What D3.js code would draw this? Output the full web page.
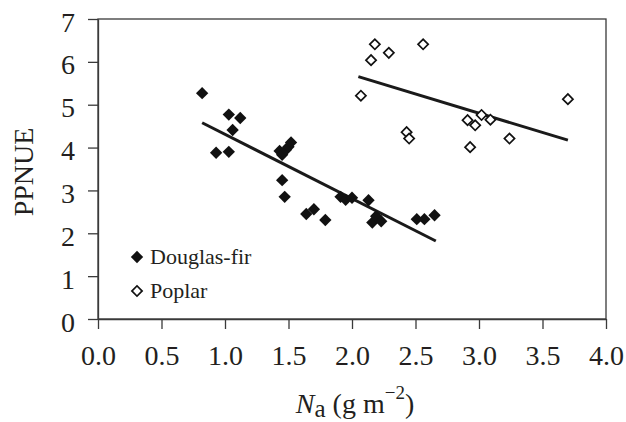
<!DOCTYPE html>
<html>
<head>
<meta charset="utf-8">
<script src="https://cdn.jsdelivr.net/npm/d3@7"></script>
<style>
  html, body { margin: 0; padding: 0; background: #fff; }
  svg { display: block; }
  text { font-family: "Liberation Serif", "DejaVu Serif", serif; fill: #231f20; }
</style>
</head>
<body>
<svg id="chart" width="626" height="422"></svg>
<script>
// ---- data ----
const douglasFirX = [0.82, 1.03, 1.12, 1.06, 0.93, 1.03, 1.43, 1.45, 1.48, 1.50, 1.52, 1.45, 1.47, 1.64, 1.70, 1.79, 1.91, 1.95, 2.00, 2.13, 2.16, 2.19, 2.23, 2.51, 2.57, 2.65];
const douglasFirY = [5.27, 4.77, 4.69, 4.41, 3.88, 3.90, 3.92, 3.83, 3.95, 4.02, 4.12, 3.24, 2.85, 2.45, 2.56, 2.31, 2.85, 2.78, 2.83, 2.77, 2.25, 2.40, 2.28, 2.33, 2.33, 2.42];
const poplarX = [2.07, 2.15, 2.18, 2.29, 2.56, 2.43, 2.45, 2.91, 2.93, 2.97, 3.02, 3.09, 3.24, 3.70];
const poplarY = [5.21, 6.04, 6.41, 6.21, 6.41, 4.36, 4.21, 4.64, 4.01, 4.52, 4.76, 4.65, 4.21, 5.13];
// regression lines: [x0, x1], y = a + b x
const douglasFirFitX = [0.82, 2.66];
const douglasFirFit = { a: 5.81, b: -1.50 };
const poplarFitX = [2.05, 3.70];
const poplarFit = { a: 7.495, b: -0.898 };
const xTicks = [0, 0.5, 1, 1.5, 2, 2.5, 3, 3.5, 4];
const yTicks = [0, 1, 2, 3, 4, 5, 6, 7];
const seriesNames = ["Douglas-fir", "Poplar"];

// ---- layout ----
const margin = { left: 98, top: 19, right: 20, bottom: 103 };
const W = 626, H = 422;
const iw = W - margin.left - margin.right;  // 508
const ih = H - margin.top - margin.bottom;  // 300

const svg = d3.select("#chart");
const g = svg.append("g").attr("transform", `translate(${margin.left},${margin.top})`);

const x = d3.scaleLinear().domain([0, 4]).range([0, iw]);
const y = d3.scaleLinear().domain([0, 7]).range([ih, 0]);

const ink = "#231f20";
const serif = '"Liberation Serif", "DejaVu Serif", serif';

// frame
g.append("rect").attr("x", 0).attr("y", 0).attr("width", iw).attr("height", ih)
  .attr("fill", "none").attr("stroke", "#3a3a3a").attr("stroke-width", 1.3);

// axes
const xAxis = g.append("g").attr("transform", `translate(0,${ih})`)
  .call(d3.axisBottom(x).tickValues(xTicks).tickFormat(d3.format(".1f")).tickSize(10).tickPadding(16).tickSizeOuter(0));
const yAxis = g.append("g")
  .call(d3.axisLeft(y).tickValues(yTicks).tickFormat(d3.format("d")).tickSize(10).tickPadding(13).tickSizeOuter(0));
[xAxis, yAxis].forEach(a => {
  a.attr("font-family", serif).attr("font-size", 28);
  a.select(".domain").attr("stroke", "#3a3a3a").attr("stroke-width", 1.3);
  a.selectAll(".tick line").attr("stroke", "#3a3a3a").attr("stroke-width", 1.3);
  a.selectAll(".tick text").attr("fill", ink).style("font-size", "28px").style("font-family", serif);
});
yAxis.selectAll(".tick text").attr("dy", "0.43em");

// regression lines
const line = d3.line().x(d => x(d[0])).y(d => y(d[1]));
g.append("path").datum(douglasFirFitX.map(v => [v, douglasFirFit.a + douglasFirFit.b * v]))
  .attr("d", line).attr("stroke", "#1a1a1a").attr("stroke-width", 3).attr("fill", "none");
g.append("path").datum(poplarFitX.map(v => [v, poplarFit.a + poplarFit.b * v]))
  .attr("d", line).attr("stroke", "#1a1a1a").attr("stroke-width", 3).attr("fill", "none");

// points
const diamond = d3.symbol().type(d3.symbolSquare).size(76)();
const openDiamond = d3.symbol().type(d3.symbolSquare).size(52)();
const df = douglasFirX.map((v, i) => [v, douglasFirY[i]]);
const pp = poplarX.map((v, i) => [v, poplarY[i]]);

g.selectAll(".df").data(df).join("path").attr("class", "df")
  .attr("d", diamond)
  .attr("transform", d => `translate(${x(d[0])},${y(d[1])}) rotate(45)`)
  .attr("fill", "#111");
g.selectAll(".pp").data(pp).join("path").attr("class", "pp")
  .attr("d", openDiamond)
  .attr("transform", d => `translate(${x(d[0])},${y(d[1])}) rotate(45)`)
  .attr("fill", "#fff").attr("stroke", "#111").attr("stroke-width", 1.7);

// legend
const lg = svg.append("g");
lg.append("path").attr("d", diamond).attr("transform", "translate(137,257) rotate(45)").attr("fill", "#111");
lg.append("text").attr("x", 150).attr("y", 264).style("font-size", "22px").text(seriesNames[0]);
lg.append("path").attr("d", openDiamond).attr("transform", "translate(137,291) rotate(45)")
  .attr("fill", "#fff").attr("stroke", "#111").attr("stroke-width", 1.7);
lg.append("text").attr("x", 150).attr("y", 298).style("font-size", "22px").text(seriesNames[1]);

// axis titles
svg.append("text")
  .attr("transform", "translate(33,172) rotate(-90)")
  .attr("text-anchor", "middle")
  .style("font-size", "28px")
  .text("PPNUE");

const xt = svg.append("text").attr("x", 355).attr("y", 413).attr("text-anchor", "middle").style("font-size", "28px");
xt.append("tspan").style("font-style", "italic").text("N");
xt.append("tspan").attr("dy", 4).style("font-size", "25px").text("a");
xt.append("tspan").attr("dy", -4).text(" (g m");
xt.append("tspan").attr("dy", -14).style("font-size", "19px").text("\u22122");
xt.append("tspan").attr("dy", 14).text(")");
</script>
</body>
</html>
